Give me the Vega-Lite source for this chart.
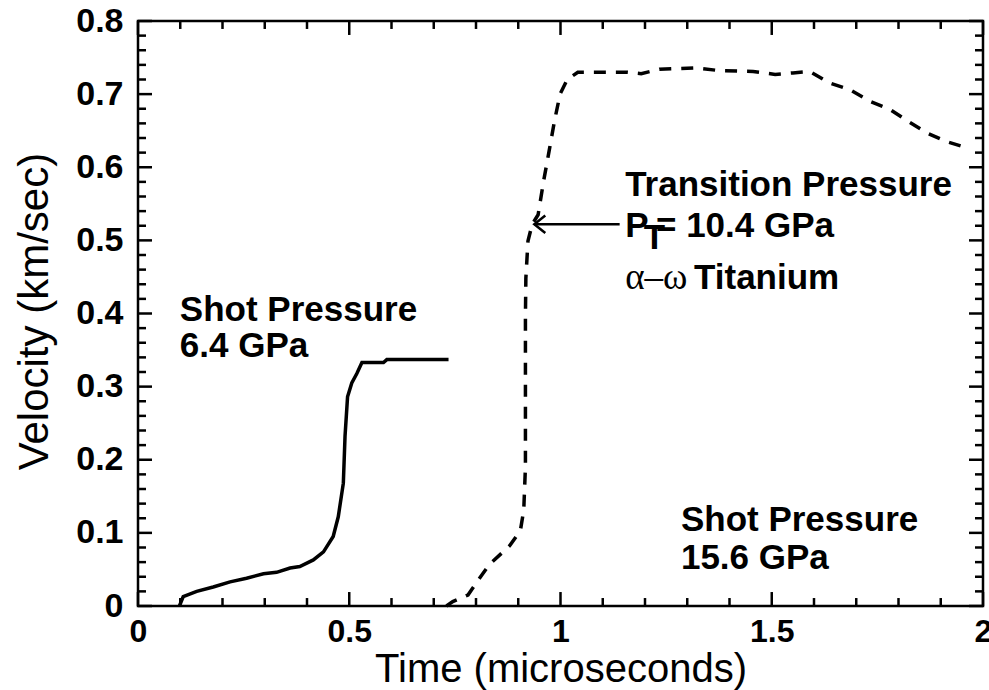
{
  "$schema": "https://vega.github.io/schema/vega-lite/v6.json",
  "width": 845,
  "height": 585,
  "autosize": {"type": "none"},
  "padding": {"left": 138, "top": 21, "right": 6, "bottom": 84},
  "background": "white",
  "config": {
    "view": {"stroke": "black", "strokeWidth": 2.5},
    "axis": {"grid": false, "domain": false, "labelColor": "black", "titleColor": "black"}
  },
  "datasets": {
    "solid": [
      {"t": 0.098, "v": 0.0}, {"t": 0.107, "v": 0.013}, {"t": 0.139, "v": 0.020}, {"t": 0.178, "v": 0.026},
      {"t": 0.218, "v": 0.033}, {"t": 0.257, "v": 0.038}, {"t": 0.297, "v": 0.044}, {"t": 0.328, "v": 0.046},
      {"t": 0.36, "v": 0.052}, {"t": 0.383, "v": 0.054}, {"t": 0.415, "v": 0.063}, {"t": 0.439, "v": 0.074},
      {"t": 0.462, "v": 0.095}, {"t": 0.474, "v": 0.122}, {"t": 0.486, "v": 0.168}, {"t": 0.49, "v": 0.232},
      {"t": 0.496, "v": 0.286}, {"t": 0.506, "v": 0.305}, {"t": 0.518, "v": 0.318}, {"t": 0.53, "v": 0.333},
      {"t": 0.581, "v": 0.333}, {"t": 0.589, "v": 0.337}, {"t": 0.735, "v": 0.337}
    ],
    "dashed": [
      {"t": 0.73, "v": 0.0}, {"t": 0.745, "v": 0.006}, {"t": 0.781, "v": 0.015}, {"t": 0.806, "v": 0.036},
      {"t": 0.832, "v": 0.057}, {"t": 0.879, "v": 0.082}, {"t": 0.905, "v": 0.103}, {"t": 0.913, "v": 0.131},
      {"t": 0.917, "v": 0.19}, {"t": 0.917, "v": 0.396}, {"t": 0.918, "v": 0.448}, {"t": 0.923, "v": 0.499},
      {"t": 0.933, "v": 0.522}, {"t": 0.947, "v": 0.535}, {"t": 0.96, "v": 0.581}, {"t": 0.973, "v": 0.622},
      {"t": 0.986, "v": 0.664}, {"t": 0.999, "v": 0.7}, {"t": 1.016, "v": 0.72}, {"t": 1.041, "v": 0.73},
      {"t": 1.157, "v": 0.73}, {"t": 1.191, "v": 0.728}, {"t": 1.234, "v": 0.734}, {"t": 1.32, "v": 0.736},
      {"t": 1.378, "v": 0.732}, {"t": 1.456, "v": 0.731}, {"t": 1.508, "v": 0.727}, {"t": 1.55, "v": 0.729},
      {"t": 1.59, "v": 0.731}, {"t": 1.638, "v": 0.715}, {"t": 1.685, "v": 0.706}, {"t": 1.733, "v": 0.69},
      {"t": 1.78, "v": 0.679}, {"t": 1.822, "v": 0.663}, {"t": 1.867, "v": 0.647}, {"t": 1.914, "v": 0.635},
      {"t": 1.96, "v": 0.627}
    ],
    "xticks": [
      {"t": 0, "major": 1}, {"t": 0.1, "major": 0}, {"t": 0.2, "major": 0}, {"t": 0.3, "major": 0}, {"t": 0.4, "major": 0},
      {"t": 0.5, "major": 1}, {"t": 0.6, "major": 0}, {"t": 0.7, "major": 0}, {"t": 0.8, "major": 0}, {"t": 0.9, "major": 0},
      {"t": 1, "major": 1}, {"t": 1.1, "major": 0}, {"t": 1.2, "major": 0}, {"t": 1.3, "major": 0}, {"t": 1.4, "major": 0},
      {"t": 1.5, "major": 1}, {"t": 1.6, "major": 0}, {"t": 1.7, "major": 0}, {"t": 1.8, "major": 0}, {"t": 1.9, "major": 0},
      {"t": 2, "major": 1}
    ],
    "yticks": [
      {"v": 0, "major": 1}, {"v": 0.02, "major": 0}, {"v": 0.04, "major": 0}, {"v": 0.06, "major": 0}, {"v": 0.08, "major": 0},
      {"v": 0.1, "major": 1}, {"v": 0.12, "major": 0}, {"v": 0.14, "major": 0}, {"v": 0.16, "major": 0}, {"v": 0.18, "major": 0},
      {"v": 0.2, "major": 1}, {"v": 0.22, "major": 0}, {"v": 0.24, "major": 0}, {"v": 0.26, "major": 0}, {"v": 0.28, "major": 0},
      {"v": 0.3, "major": 1}, {"v": 0.32, "major": 0}, {"v": 0.34, "major": 0}, {"v": 0.36, "major": 0}, {"v": 0.38, "major": 0},
      {"v": 0.4, "major": 1}, {"v": 0.42, "major": 0}, {"v": 0.44, "major": 0}, {"v": 0.46, "major": 0}, {"v": 0.48, "major": 0},
      {"v": 0.5, "major": 1}, {"v": 0.52, "major": 0}, {"v": 0.54, "major": 0}, {"v": 0.56, "major": 0}, {"v": 0.58, "major": 0},
      {"v": 0.6, "major": 1}, {"v": 0.62, "major": 0}, {"v": 0.64, "major": 0}, {"v": 0.66, "major": 0}, {"v": 0.68, "major": 0},
      {"v": 0.7, "major": 1}, {"v": 0.72, "major": 0}, {"v": 0.74, "major": 0}, {"v": 0.76, "major": 0}, {"v": 0.78, "major": 0},
      {"v": 0.8, "major": 1}
    ],
    "arrow": [{"x1": 0.938, "x2": 1.14, "v": 0.522}],
    "head": [
      {"t": 0.964, "v": 0.534, "o": 1}, {"t": 0.938, "v": 0.522, "o": 2}, {"t": 0.964, "v": 0.51, "o": 3}
    ],
    "labels": [
      {"t": 0.099, "v": 0.405, "label": "Shot Pressure"},
      {"t": 0.099, "v": 0.356, "label": "6.4 GPa"},
      {"t": 1.153, "v": 0.576, "label": "Transition Pressure"},
      {"t": 1.153, "v": 0.52, "label": "P"},
      {"t": 1.197, "v": 0.503, "label": "T"},
      {"t": 1.226, "v": 0.52, "label": "= 10.4 GPa"},
      {"t": 1.316, "v": 0.448, "label": "Titanium"},
      {"t": 1.285, "v": 0.118, "label": "Shot Pressure"},
      {"t": 1.285, "v": 0.066, "label": "15.6 GPa"}
    ],
    "greek": [{"t": 1.153, "v": 0.448, "label": "α–ω"}]
  },
  "layer": [
    {
      "data": {"name": "solid"},
      "mark": {"type": "line", "color": "black", "strokeWidth": 3.5},
      "encoding": {
        "x": {
          "field": "t", "type": "quantitative",
          "scale": {"domain": [0, 2], "nice": false, "zero": false},
          "axis": {
            "orient": "bottom", "values": [0, 0.5, 1, 1.5, 2], "format": "~g", "ticks": false,
            "labelFont": "Liberation Sans", "labelFontWeight": "bold", "labelFontSize": 32,
            "labelPadding": 10, "labelFlush": false, "labelOverlap": false,
            "title": "Time (microseconds)", "titleFont": "Liberation Sans", "titleFontWeight": "normal",
            "titleFontSize": 40, "titleBaseline": "alphabetic", "titleY": 75
          }
        },
        "y": {
          "field": "v", "type": "quantitative",
          "scale": {"domain": [0, 0.8], "nice": false},
          "axis": {
            "orient": "left", "values": [0, 0.1, 0.2, 0.3, 0.4, 0.5, 0.6, 0.7, 0.8], "format": "~g", "ticks": false,
            "labelFont": "Liberation Sans", "labelFontWeight": "bold", "labelFontSize": 34,
            "labelPadding": 15, "labelFlush": false, "labelOverlap": false,
            "title": "Velocity (km/sec)", "titleFont": "Liberation Sans", "titleFontWeight": "normal",
            "titleFontSize": 42, "titleBaseline": "middle", "titleX": -104, "titleY": 290
          }
        }
      }
    },
    {
      "data": {"name": "dashed"},
      "mark": {"type": "line", "color": "black", "strokeWidth": 3.5, "strokeDash": [12, 10]},
      "encoding": {
        "x": {"field": "t", "type": "quantitative"},
        "y": {"field": "v", "type": "quantitative"}
      }
    },
    {
      "data": {"name": "xticks"},
      "transform": [{"filter": "datum.major == 1"}],
      "mark": {"type": "rule", "color": "black", "strokeWidth": 2.5},
      "encoding": {
        "x": {"field": "t", "type": "quantitative"},
        "y": {"datum": 0, "type": "quantitative"},
        "y2": {"datum": 0.0191}
      }
    },
    {
      "data": {"name": "xticks"},
      "transform": [{"filter": "datum.major == 0"}],
      "mark": {"type": "rule", "color": "black", "strokeWidth": 2.5},
      "encoding": {
        "x": {"field": "t", "type": "quantitative"},
        "y": {"datum": 0, "type": "quantitative"},
        "y2": {"datum": 0.0109}
      }
    },
    {
      "data": {"name": "xticks"},
      "transform": [{"filter": "datum.major == 1"}],
      "mark": {"type": "rule", "color": "black", "strokeWidth": 2.5},
      "encoding": {
        "x": {"field": "t", "type": "quantitative"},
        "y": {"datum": 0.8, "type": "quantitative"},
        "y2": {"datum": 0.7809}
      }
    },
    {
      "data": {"name": "xticks"},
      "transform": [{"filter": "datum.major == 0"}],
      "mark": {"type": "rule", "color": "black", "strokeWidth": 2.5},
      "encoding": {
        "x": {"field": "t", "type": "quantitative"},
        "y": {"datum": 0.8, "type": "quantitative"},
        "y2": {"datum": 0.7891}
      }
    },
    {
      "data": {"name": "yticks"},
      "transform": [{"filter": "datum.major == 1"}],
      "mark": {"type": "rule", "color": "black", "strokeWidth": 2.5},
      "encoding": {
        "y": {"field": "v", "type": "quantitative"},
        "x": {"datum": 0, "type": "quantitative"},
        "x2": {"datum": 0.0331}
      }
    },
    {
      "data": {"name": "yticks"},
      "transform": [{"filter": "datum.major == 0"}],
      "mark": {"type": "rule", "color": "black", "strokeWidth": 2.5},
      "encoding": {
        "y": {"field": "v", "type": "quantitative"},
        "x": {"datum": 0, "type": "quantitative"},
        "x2": {"datum": 0.0189}
      }
    },
    {
      "data": {"name": "yticks"},
      "transform": [{"filter": "datum.major == 1"}],
      "mark": {"type": "rule", "color": "black", "strokeWidth": 2.5},
      "encoding": {
        "y": {"field": "v", "type": "quantitative"},
        "x": {"datum": 2, "type": "quantitative"},
        "x2": {"datum": 1.9669}
      }
    },
    {
      "data": {"name": "yticks"},
      "transform": [{"filter": "datum.major == 0"}],
      "mark": {"type": "rule", "color": "black", "strokeWidth": 2.5},
      "encoding": {
        "y": {"field": "v", "type": "quantitative"},
        "x": {"datum": 2, "type": "quantitative"},
        "x2": {"datum": 1.9811}
      }
    },
    {
      "data": {"name": "labels"},
      "mark": {"type": "text", "align": "left", "baseline": "middle", "font": "Liberation Sans", "fontWeight": "bold", "fontSize": 35, "color": "black"},
      "encoding": {
        "x": {"field": "t", "type": "quantitative"},
        "y": {"field": "v", "type": "quantitative"},
        "text": {"field": "label"}
      }
    },
    {
      "data": {"name": "arrow"},
      "mark": {"type": "rule", "color": "black", "strokeWidth": 2.5},
      "encoding": {
        "x": {"field": "x1", "type": "quantitative"},
        "x2": {"field": "x2"},
        "y": {"field": "v", "type": "quantitative"}
      }
    },
    {
      "data": {"name": "head"},
      "mark": {"type": "line", "color": "black", "strokeWidth": 2.5},
      "encoding": {
        "x": {"field": "t", "type": "quantitative"},
        "y": {"field": "v", "type": "quantitative"},
        "order": {"field": "o"}
      }
    },
    {
      "data": {"name": "greek"},
      "mark": {"type": "text", "align": "left", "baseline": "middle", "font": "Liberation Serif", "fontSize": 37, "color": "black"},
      "encoding": {
        "x": {"field": "t", "type": "quantitative"},
        "y": {"field": "v", "type": "quantitative"},
        "text": {"field": "label"}
      }
    }
  ]
}
